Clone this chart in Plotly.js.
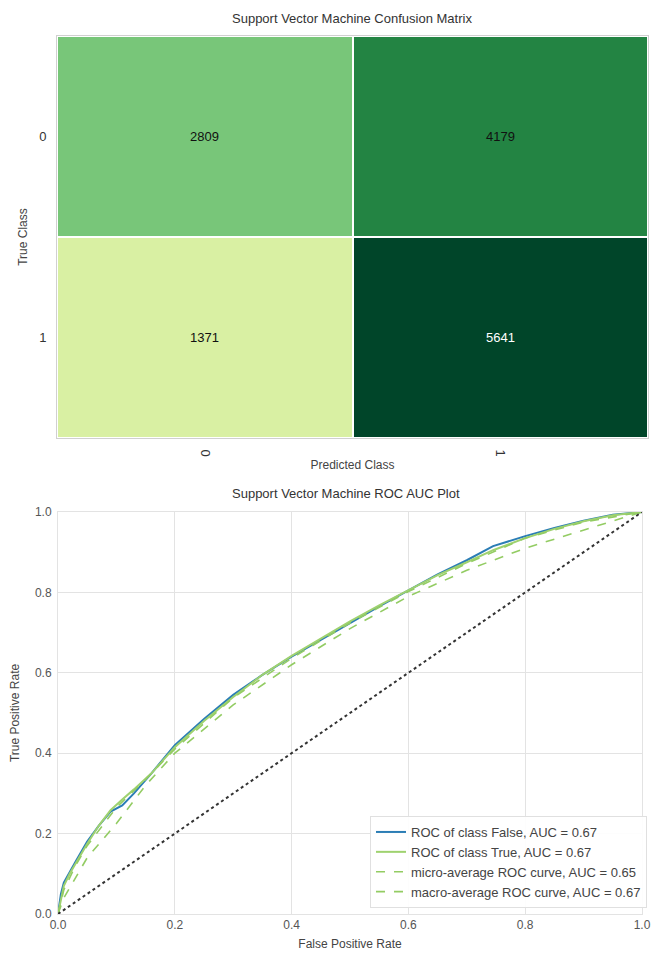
<!DOCTYPE html>
<html>
<head>
<meta charset="utf-8">
<script src="https://cdn.plot.ly/plotly-3.0.1.min.js"></script>
<style>html,body{margin:0;padding:0;background:#fff;}#chart{width:656px;height:957px;}</style>
</head>
<body>
<div id="chart"></div>
<script>
// Confusion matrix data
const predictedClasses = ["0", "1"];
const trueClasses = ["0", "1"];
const cmValues = [[2809, 4179], [1371, 5641]];
const cmColors = ["#d9f0a3", "#78c679", "#238443", "#004529"];

// ROC data
const fprFalse = [0, 0.005, 0.01, 0.02, 0.03, 0.05, 0.07, 0.09, 0.11, 0.13, 0.16, 0.2, 0.25, 0.3, 0.35, 0.4, 0.45, 0.5, 0.55, 0.6, 0.65, 0.7, 0.745, 0.8, 0.85, 0.9, 0.95, 1.0];
const tprFalse = [0, 0.05, 0.078, 0.105, 0.13, 0.18, 0.22, 0.255, 0.27, 0.30, 0.35, 0.42, 0.485, 0.545, 0.595, 0.64, 0.682, 0.725, 0.765, 0.805, 0.845, 0.88, 0.915, 0.94, 0.96, 0.978, 0.993, 1.0];
const fprTrue = [0, 0.005, 0.01, 0.02, 0.03, 0.05, 0.07, 0.09, 0.11, 0.13, 0.16, 0.2, 0.25, 0.3, 0.35, 0.4, 0.45, 0.5, 0.55, 0.6, 0.65, 0.7, 0.745, 0.8, 0.85, 0.9, 0.95, 1.0];
const tprTrue = [0, 0.04, 0.07, 0.1, 0.125, 0.175, 0.22, 0.258, 0.285, 0.31, 0.35, 0.415, 0.48, 0.54, 0.595, 0.642, 0.685, 0.728, 0.768, 0.806, 0.843, 0.875, 0.905, 0.935, 0.958, 0.977, 0.992, 1.0];
const fprMicro = [0, 0.01, 0.03, 0.05, 0.1, 0.15, 0.2, 0.3, 0.4, 0.5, 0.6, 0.7, 0.8, 0.9, 1.0];
const tprMicro = [0, 0.04, 0.09, 0.14, 0.225, 0.32, 0.40, 0.52, 0.62, 0.71, 0.79, 0.855, 0.91, 0.955, 1.0];
const fprMacro = [0, 0.01, 0.03, 0.05, 0.1, 0.15, 0.2, 0.3, 0.4, 0.5, 0.6, 0.7, 0.8, 0.9, 1.0];
const tprMacro = [0, 0.06, 0.12, 0.17, 0.265, 0.335, 0.41, 0.538, 0.636, 0.724, 0.802, 0.872, 0.935, 0.975, 1.0];
const diagX = [0, 1];
const diagY = [0, 1];
const rocNames = ["ROC of class False, AUC = 0.67", "ROC of class True, AUC = 0.67", "micro-average ROC curve, AUC = 0.65", "macro-average ROC curve, AUC = 0.67"];
const tickVals = [0, 0.2, 0.4, 0.6, 0.8, 1.0];
const tickText = ["0.0", "0.2", "0.4", "0.6", "0.8", "1.0"];

// colourscale built from data values
const flat = cmValues.flat();
const zmin = Math.min(...flat), zmax = Math.max(...flat);
const sorted = [...flat].sort((a, b) => a - b);
const colorscale = sorted.map((v, i) => [(v - zmin) / (zmax - zmin), cmColors[i]]);

const FONT = "Liberation Sans, Arial, sans-serif";
const TXT = "#444";

const traces = [
  {
    type: "heatmap", x: predictedClasses, y: trueClasses, z: cmValues,
    colorscale: colorscale, zmin: zmin, zmax: zmax, showscale: false,
    xgap: 2, ygap: 2, xaxis: "x", yaxis: "y", hoverinfo: "skip"
  },
  { type: "scatter", mode: "lines", x: fprFalse, y: tprFalse, name: rocNames[0], line: { color: "#2b7db5", width: 2 }, xaxis: "x2", yaxis: "y2" },
  { type: "scatter", mode: "lines", x: fprTrue, y: tprTrue, name: rocNames[1], line: { color: "#9fd26f", width: 2 }, xaxis: "x2", yaxis: "y2" },
  { type: "scatter", mode: "lines", x: fprMicro, y: tprMicro, name: rocNames[2], line: { color: "#93cc63", width: 1.6, dash: "dash" }, xaxis: "x2", yaxis: "y2" },
  { type: "scatter", mode: "lines", x: fprMacro, y: tprMacro, name: rocNames[3], line: { color: "#93cc63", width: 1.6, dash: "dash" }, xaxis: "x2", yaxis: "y2" },
  { type: "scatter", mode: "lines", x: diagX, y: diagY, showlegend: false, line: { color: "#333", width: 2, dash: "dot" }, xaxis: "x2", yaxis: "y2" }
];

const annotations = [];
cmValues.forEach((row, i) => row.forEach((v, j) => {
  annotations.push({
    x: predictedClasses[j], y: trueClasses[i], xref: "x", yref: "y", text: String(v), showarrow: false,
    font: { family: FONT, size: 13, color: v > 5000 ? "#ffffff" : "#111111" }
  });
}));
annotations.push(
  { text: "Support Vector Machine Confusion Matrix", xref: "paper", yref: "paper", x: 0.537, y: 1 - 19 / 957, yanchor: "middle", showarrow: false, font: { family: FONT, size: 13, color: "#333" } },
  { text: "Support Vector Machine ROC AUC Plot", xref: "paper", yref: "paper", x: 0.427 + 0.1, y: 1 - 494 / 957, yanchor: "middle", showarrow: false, font: { family: FONT, size: 13, color: "#333" } }
);

const layout = {
  width: 656, height: 957,
  margin: { l: 0, r: 0, t: 0, b: 0 },
  paper_bgcolor: "#ffffff", plot_bgcolor: "#ffffff",
  font: { family: FONT, size: 11, color: TXT },
  showlegend: true,
  xaxis: {
    domain: [57 / 656, 648 / 656], anchor: "y", type: "category",
    tickangle: 90, ticks: "", showgrid: false, zeroline: false,
    showline: true, linecolor: "#d0d0d0", mirror: true,
    ticklabelstandoff: 8,
    tickfont: { size: 13, color: "#333" },
    title: { text: "Predicted Class", font: { size: 12, color: "#444" }, standoff: 4 }
  },
  yaxis: {
    domain: [1 - 438 / 957, 1 - 36 / 957], anchor: "x", type: "category",
    autorange: "reversed", ticks: "", showgrid: false, zeroline: false,
    showline: true, linecolor: "#d0d0d0", mirror: true,
    ticklabelstandoff: 7,
    tickfont: { size: 13, color: "#333" },
    title: { text: "True Class", font: { size: 12, color: "#444" }, standoff: 8 }
  },
  xaxis2: {
    domain: [58 / 656, 642 / 656], anchor: "y2", range: [0, 1],
    tickvals: tickVals, ticktext: tickText, ticks: "",
    showgrid: true, gridcolor: "#e3e3e3", gridwidth: 1.2, zeroline: false,
    showline: true, linecolor: "#e3e3e3", mirror: true,
    tickfont: { size: 12, color: "#555" },
    title: { text: "False Positive Rate", font: { size: 12, color: "#444" }, standoff: 8 }
  },
  yaxis2: {
    domain: [1 - 914 / 957, 1 - 512 / 957], anchor: "x2", range: [0, 1],
    tickvals: tickVals, ticktext: tickText, ticks: "",
    showgrid: true, gridcolor: "#e3e3e3", gridwidth: 1.2, zeroline: false,
    showline: true, linecolor: "#e3e3e3", mirror: true,
    ticklabelstandoff: 3,
    tickfont: { size: 12, color: "#555" },
    title: { text: "True Positive Rate", font: { size: 12, color: "#444" }, standoff: 12 }
  },
  legend: {
    x: 647 / 656, y: 1 - 908 / 957, xanchor: "right", yanchor: "bottom",
    bgcolor: "rgba(255,255,255,0.9)", bordercolor: "#e0e0e0", borderwidth: 1,
    font: { size: 13, color: "#444" }, itemwidth: 30, tracegroupgap: 0
  },
  annotations: annotations
};

Plotly.newPlot("chart", traces, layout, { displayModeBar: false, staticPlot: true });
</script>
</body>
</html>
